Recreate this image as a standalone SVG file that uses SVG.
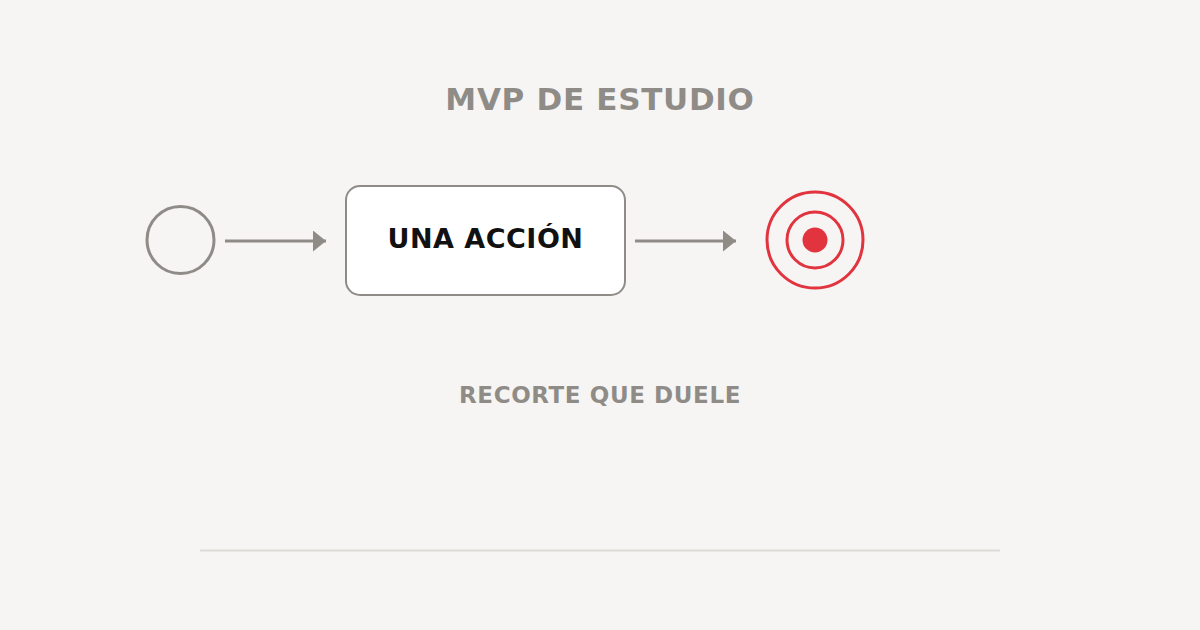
<svg xmlns="http://www.w3.org/2000/svg" width="1200" height="630" viewBox="0 0 1200 630">
  <style>
    .gray { stroke: #8f8c88; fill: none; }
    .lbl { font-family: "DejaVu Sans", "Liberation Sans", sans-serif; font-weight: bold; text-anchor: middle; }
    .conn { stroke: #8f8c88; stroke-width: 3; fill: none; }
    .red { stroke: #e2343f; stroke-width: 3; fill: none; }
  </style>
  <defs>
    <marker id="arrow" markerWidth="13" markerHeight="21" refX="13" refY="10.5" orient="auto" markerUnits="userSpaceOnUse">
      <path d="M0,0 L13,10.5 L0,21 Z" fill="#8f8c88"/>
    </marker>
  </defs>
  <rect width="1200" height="630" fill="#f6f5f3"/>
  <text class="lbl" x="600" y="110" font-size="31" fill="#8f8c88" letter-spacing="0.7">MVP DE ESTUDIO</text>

  <g id="start">
    <circle cx="180.5" cy="240" r="33.5" class="gray" stroke-width="3"/>
  </g>
  <g id="action">
    <rect x="346" y="186" width="279" height="109" rx="14" fill="#ffffff" stroke="#8f8c88" stroke-width="2"/>
    <text class="lbl" x="485.5" y="248" font-size="27" fill="#111111" letter-spacing="0.5">UNA ACCIÓN</text>
  </g>
  <g id="end">
    <circle cx="815" cy="240" r="48" class="red"/>
    <circle cx="815" cy="240" r="28" class="red"/>
    <circle cx="815" cy="240" r="12.5" fill="#e2343f"/>
  </g>
  <g id="connectors">
    <line x1="225" y1="241" x2="326" y2="241" class="conn" marker-end="url(#arrow)"/>
    <line x1="635" y1="241" x2="736" y2="241" class="conn" marker-end="url(#arrow)"/>
  </g>

  <text class="lbl" x="600" y="403" font-size="23" fill="#8f8c88" letter-spacing="0.6">RECORTE QUE DUELE</text>
  <line x1="200" y1="550.5" x2="1000" y2="550.5" stroke="#dddbd8" stroke-width="2"/>
</svg>
